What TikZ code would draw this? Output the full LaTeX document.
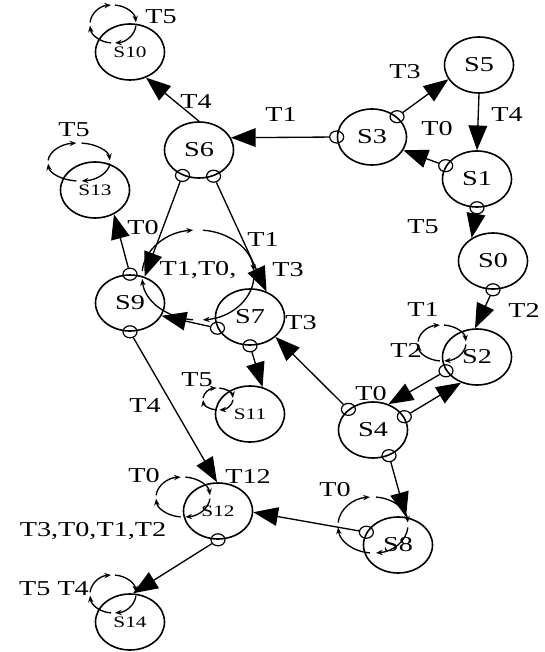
\documentclass[tikz,border=0pt]{standalone}
\usepackage{fontspec}
\setmainfont{Liberation Serif}[FakeStretch=1.33]
\usetikzlibrary{shapes.geometric, arrows.meta}

\newcommand{\bigfnt}{\fontsize{15.9}{18}\selectfont}
\newcommand{\smallfnt}{\fontsize{12}{14}\selectfont}
% self loop: centre, x radius, y radius
\newcommand{\drawloop}[3]{%
  \foreach \ang in {5,95,185,275}
    \draw[loopline] (#1) ++(\ang:#2 and #3) arc[start angle=\ang, delta angle=80, x radius=#2, y radius=#3];%
}

\begin{document}
\begin{tikzpicture}[x=0.75pt, y=-0.75pt,
  stnode/.style={draw, ellipse, line width=1.2pt, minimum width=51.75pt, minimum height=42pt, inner sep=0pt, font=\bigfnt},
  smallst/.style={stnode, font=\smallfnt},
  portc/.style={draw, ellipse, line width=0.9pt, minimum width=10.5pt, minimum height=9pt, inner sep=0pt},
  trans/.style={draw, line width=1pt, -{Triangle[length=18.5pt, width=14pt]}},
  loopline/.style={line width=1pt, -{Stealth[length=5pt, width=4pt]}},
  lbl/.style={font=\bigfnt, inner sep=0pt}]
	\useasboundingbox (0,0) rectangle (545,652);
	
	% Define nodes
	\node [smallst] (s10) at (130,52) {S10};
	\node [stnode] (s6) at (199,150) {S6};
	\node [smallst] (s13) at (95,190) {S13};
	\node [stnode] (s3) at (372,137) {S3};
	\node [stnode] (s5) at (479,65) {S5};
	\node [stnode] (s1) at (477,179) {S1};
	\node [stnode] (s0) at (493,261) {S0};
	\node [stnode] (s2) at (477,357) {S2};
	\node [stnode] (s4) at (373,430) {S4};
	\node [stnode] (s8) at (398,545) {S8};
	\node [stnode] (s9) at (130,303) {S9};
	\node [stnode] (s7) at (250,317) {S7};
	\node [smallst] (s11) at (250,414) {S11};
	\node [smallst] (s12) at (218,511) {S12};
	\node [smallst] (s14) at (130,622) {S14};
	
	% Output places on the state borders
	\node [portc] (p3a) at (s3.180) {};
	\node [portc] (p3b) at (s3.39) {};
	\node [portc] (p1a) at (s1.157) {};
	\node [portc] (p1b) at (s1.270) {};
	\node [portc] (p0) at (s0.270) {};
	\node [portc] (p2) at (s2.204) {};
	\node [portc] (p4a) at (s4.140) {};
	\node [portc] (p4b) at (s4.23) {};
	\node [portc] (p4c) at (s4.302) {};
	\node [portc] (p8) at (s8.158) {};
	\node [portc] (p6a) at (s6.237) {};
	\node [portc] (p6b) at (s6.299) {};
	\node [portc] (p9a) at (s9.90) {};
	\node [portc] (p9b) at (s9.270) {};
	\node [portc] (p7a) at (s7.199) {};
	\node [portc] (p7b) at (s7.270) {};
	\node [portc] (p12) at (s12.270) {};
	
	% Transitions
	\draw[trans] (s6.north) -- (s10.302);
	\draw[trans] (p3a) -- (s6.21);
	\draw[trans] (p3b) -- (s5.205);
	\draw[trans] (s5.south) -- (s1.north);
	\draw[trans] (p1a) -- (s3.337);
	\draw[trans] (p1b) -- (s0.133);
	\draw[trans] (p0) -- (s2.94);
	\draw[trans] (p2) -- (s4.59);
	\draw[trans] (p4a) -- (s7.322);
	\draw[trans] (p4b) -- (s2.238);
	\draw[trans] (p4c) -- (s8.74);
	\draw[trans] (p8) -- (s12.358);
	\draw[trans] (p6a) -- (s9.61);
	\draw[trans] (p6b) -- (s7.57);
	\draw[trans] (p9a) -- (s13.308);
	\draw[trans] (p9b) -- (s12.92);
	\draw[trans] (p7a) -- (s9.338);
	\draw[trans] (p7b) -- (s11.65);
	\draw[trans] (p12) -- (s14.84);
	
	% Self loops
	\coordinate (c10) at (113,24);
	\coordinate (c13) at (79,162);
	\coordinate (c2) at (442,343);
	\coordinate (c11) at (218,399);
	\coordinate (c12) at (183,497);
	\coordinate (c14) at (113,594);
	\coordinate (c8) at (373,525);
	\coordinate (c9) at (198,275);
	\drawloop{c10}{23}{19}
	\drawloop{c13}{31}{19}
	\drawloop{c2}{24}{18}
	\drawloop{c11}{15}{11}
	\drawloop{c12}{27}{20}
	\drawloop{c14}{23}{19}
	\drawloop{c8}{35}{28}
	\drawloop{c9}{56}{45}
	
	% Labels
	\node [lbl] (l1) at (161,17) {T5};
	\node [lbl] (l2) at (196,102) {T4};
	\node [lbl] (l3) at (281,115) {T1};
	\node [lbl] (l4) at (405,72) {T3};
	\node [lbl] (l5) at (507,115) {T4};
	\node [lbl] (l6) at (437,129) {T0};
	\node [lbl] (l7) at (423,227) {T5};
	\node [lbl] (l8) at (524,310) {T2};
	\node [lbl] (l9) at (74,130) {T5};
	\node [lbl] (l10) at (143,228) {T0};
	\node [lbl] (l11) at (263,240) {T1};
	\node [lbl] (l12) at (198,270) {T1,T0,};
	\node [lbl] (l13) at (288,270) {T3};
	\node [lbl] (l14) at (301,323) {T3};
	\node [lbl] (l15) at (423,310) {T1};
	\node [lbl] (l16) at (406,350) {T2};
	\node [lbl] (l17) at (371,394) {T0};
	\node [lbl] (l18) at (197,380) {T5};
	\node [lbl] (l19) at (145,406) {T4};
	\node [lbl] (l20) at (144,476) {T0};
	\node [lbl] (l21) at (248,476) {T12};
	\node [lbl] (l22) at (335,490) {T0};
	\node [lbl] (l23) at (93,531) {T3,T0,T1,T2};
	\node [lbl] (l24) at (54,589) {T5 T4};
\end{tikzpicture}
\end{document}
